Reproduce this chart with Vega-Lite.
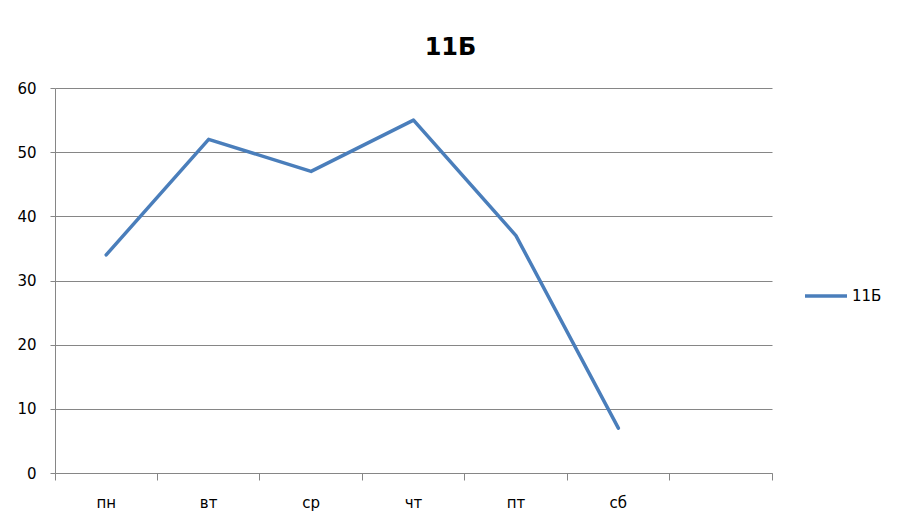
{
  "$schema": "https://vega.github.io/schema/vega-lite/v6.json",
  "autosize": {"type": "none"},
  "width": 717,
  "height": 385,
  "padding": {"left": 55, "top": 88, "right": 131, "bottom": 53},
  "background": "white",
  "config": {
    "view": {"stroke": null},
    "font": "DejaVu Sans"
  },
  "title": {
    "text": "11Б",
    "font": "DejaVu Sans",
    "fontSize": 24,
    "fontWeight": "bold",
    "color": "#000000",
    "anchor": "middle",
    "dx": 37,
    "baseline": "alphabetic",
    "offset": 2
  },
  "data": {
    "values": [
      {"day": "пн", "value": 34, "series": "11Б"},
      {"day": "вт", "value": 52, "series": "11Б"},
      {"day": "ср", "value": 47, "series": "11Б"},
      {"day": "чт", "value": 55, "series": "11Б"},
      {"day": "пт", "value": 37, "series": "11Б"},
      {"day": "сб", "value": 7, "series": "11Б"}
    ]
  },
  "mark": {"type": "line", "strokeWidth": 3.5, "strokeJoin": "round", "strokeCap": "round"},
  "encoding": {
    "x": {
      "field": "day",
      "type": "nominal",
      "sort": null,
      "scale": {"type": "band", "domain": ["пн", "вт", "ср", "чт", "пт", "сб", " "], "paddingInner": 0, "paddingOuter": 0},
      "axis": {
        "title": null,
        "labelAngle": 0,
        "bandPosition": 1,
        "tickExtra": true,
        "labelOffset": 0,
        "tickSize": 7,
        "tickColor": "#868686",
        "domainColor": "#868686",
        "labelPadding": 15,
        "labelFont": "DejaVu Sans",
        "labelFontSize": 15,
        "labelColor": "#000000",
        "grid": false
      }
    },
    "y": {
      "field": "value",
      "type": "quantitative",
      "scale": {"domain": [0, 60], "nice": false},
      "axis": {
        "title": null,
        "values": [0, 10, 20, 30, 40, 50, 60],
        "grid": true,
        "gridColor": "#868686",
        "domainColor": "#868686",
        "tickColor": "#868686",
        "tickSize": 5,
        "labelPadding": 14,
        "labelFont": "DejaVu Sans",
        "labelFontSize": 15,
        "labelColor": "#000000"
      }
    },
    "color": {
      "field": "series",
      "type": "nominal",
      "scale": {"range": ["#4A7EBB"]},
      "legend": {
        "title": null,
        "orient": "none",
        "legendX": 748,
        "legendY": 185,
        "symbolType": "stroke",
        "symbolSize": 1764,
        "symbolStrokeWidth": 3.5,
        "labelFont": "DejaVu Sans",
        "labelFontSize": 15,
        "labelColor": "#000000",
        "labelOffset": 3
      }
    }
  }
}
